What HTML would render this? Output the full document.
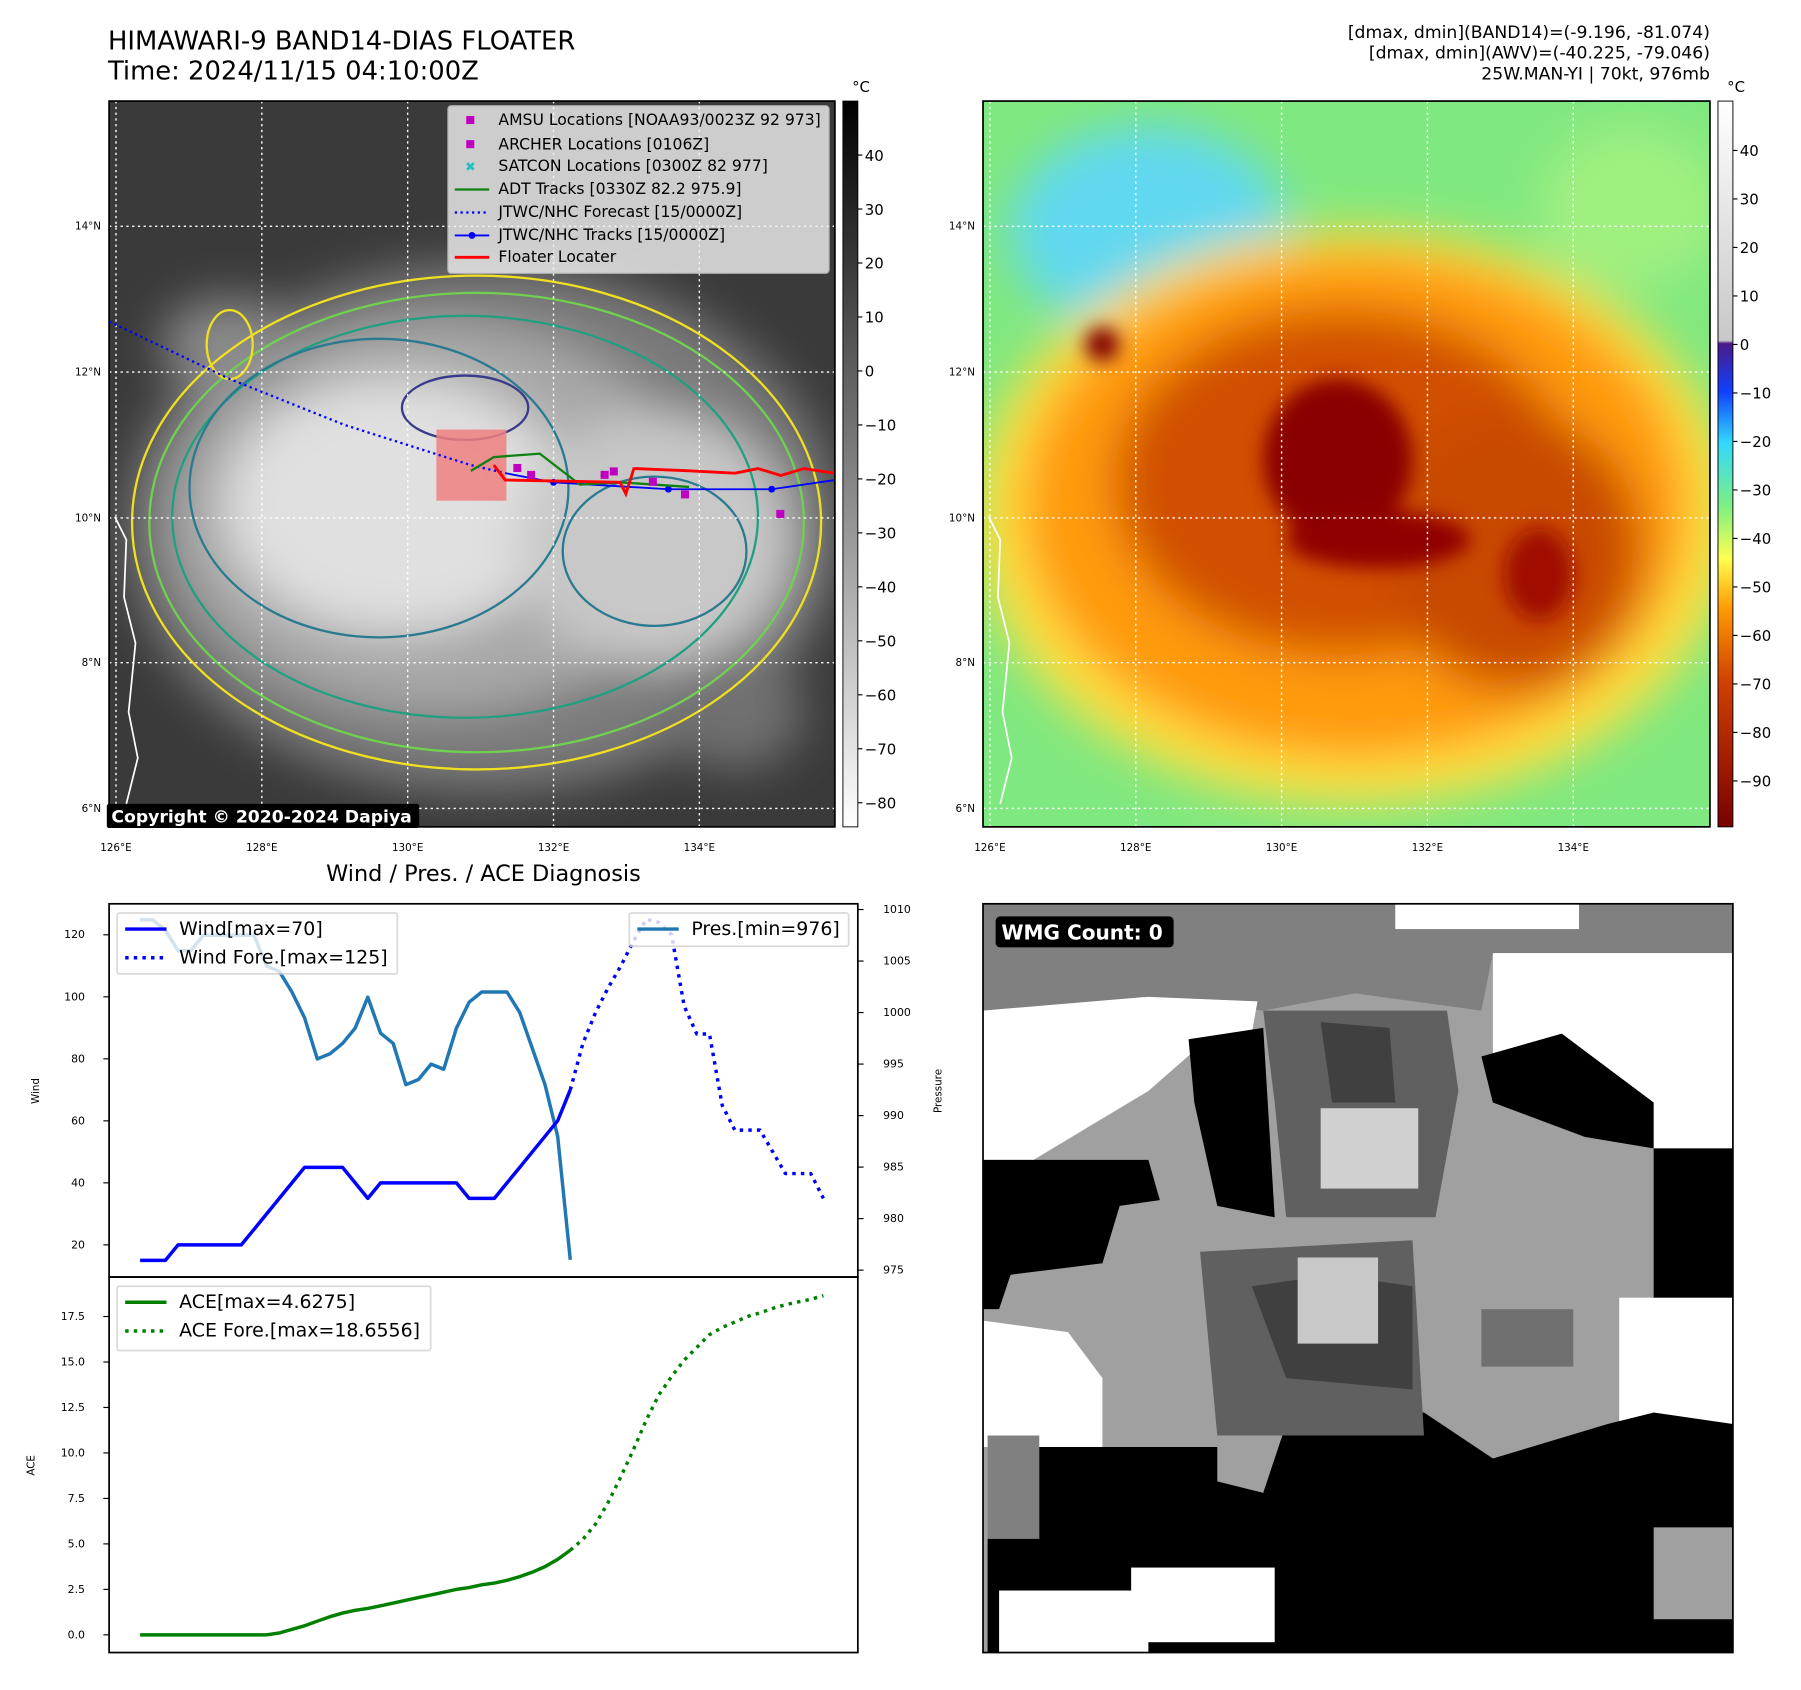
<!DOCTYPE html>
<html><head><meta charset="utf-8"><style>
html,body{margin:0;padding:0;background:#fff;}
svg{display:block;font-family:"DejaVu Sans","Liberation Sans",sans-serif;}
</style></head><body>
<svg id="root" width="1801" height="1690" viewBox="0 0 1568.3 1471.6" xmlns="http://www.w3.org/2000/svg">
<defs>
 <filter id="blur8"><feGaussianBlur stdDeviation="8"/></filter>
 <filter id="blur20"><feGaussianBlur stdDeviation="20"/></filter>
 <linearGradient id="cb1" x1="0" y1="0" x2="0" y2="1"><stop offset="0" stop-color="#000"/><stop offset="1" stop-color="#fff"/></linearGradient>
 <linearGradient id="cb2" x1="0" y1="0" x2="0" y2="1">
  <stop offset="0" stop-color="#fff"/><stop offset="0.33" stop-color="#c8c8c8"/><stop offset="0.334" stop-color="#4b1a8a"/>
  <stop offset="0.40" stop-color="#1040ff"/><stop offset="0.47" stop-color="#30d8ff"/><stop offset="0.56" stop-color="#80f080"/>
  <stop offset="0.63" stop-color="#ffff50"/><stop offset="0.70" stop-color="#ff9a00"/><stop offset="0.80" stop-color="#d04000"/>
  <stop offset="1" stop-color="#7a0000"/></linearGradient>
 <clipPath id="c1"><rect x="95" y="88" width="632" height="632"/></clipPath>
 <clipPath id="c2"><rect x="856" y="88" width="633" height="632"/></clipPath>
 <clipPath id="c3"><rect x="856" y="787" width="653" height="652"/></clipPath>
</defs>

<text x="94" y="43" font-size="22.5">HIMAWARI-9 BAND14-DIAS FLOATER</text>
<text x="94" y="69" font-size="22.5">Time: 2024/11/15 04:10:00Z</text>
<g font-size="15" text-anchor="end">
 <text x="1489" y="33">[dmax, dmin](BAND14)=(-9.196, -81.074)</text>
 <text x="1489" y="51">[dmax, dmin](AWV)=(-40.225, -79.046)</text>
 <text x="1489" y="69">25W.MAN-YI | 70kt, 976mb</text>
</g>

<g clip-path="url(#c1)">
 <rect x="95" y="88" width="632" height="632" fill="#3a3a3a"/>
 <g filter="url(#blur20)">
  <ellipse cx="420" cy="460" rx="310" ry="230" fill="#7a7a7a"/>
  <ellipse cx="380" cy="450" rx="230" ry="170" fill="#a8a8a8"/>
  <ellipse cx="345" cy="440" rx="150" ry="110" fill="#e0e0e0"/>
  <ellipse cx="570" cy="470" rx="120" ry="110" fill="#c8c8c8"/>
  <ellipse cx="200" cy="300" rx="60" ry="40" fill="#8a8a8a"/>
  <ellipse cx="640" cy="620" rx="60" ry="50" fill="#707070"/>
 </g>
 <g fill="none" stroke-width="2">
  <ellipse cx="415" cy="455" rx="300" ry="215" stroke="#f0e020"/>
  <ellipse cx="415" cy="455" rx="285" ry="200" stroke="#70d050"/>
  <ellipse cx="405" cy="450" rx="255" ry="175" stroke="#20a080"/>
  <ellipse cx="330" cy="425" rx="165" ry="130" stroke="#2a7a90"/>
  <ellipse cx="570" cy="480" rx="80" ry="65" stroke="#2a7a90"/>
  <ellipse cx="405" cy="355" rx="55" ry="28" stroke="#3a3a8a"/>
  <ellipse cx="200" cy="300" rx="20" ry="30" stroke="#f0e020"/>
 </g>
 <path d="M100 450 L110 470 L108 520 L118 560 L112 620 L120 660 L110 700" fill="none" stroke="#fff" stroke-width="1.5"/>
 <g stroke="#fff" stroke-width="1.2" stroke-dasharray="2,3" fill="none">
  <line x1="101" y1="88" x2="101" y2="720"/><line x1="228" y1="88" x2="228" y2="720"/><line x1="355" y1="88" x2="355" y2="720"/><line x1="482" y1="88" x2="482" y2="720"/><line x1="609" y1="88" x2="609" y2="720"/>
  <line x1="95" y1="197" x2="727" y2="197"/><line x1="95" y1="324" x2="727" y2="324"/><line x1="95" y1="451" x2="727" y2="451"/><line x1="95" y1="577" x2="727" y2="577"/><line x1="95" y1="704" x2="727" y2="704"/>
 </g>
 <rect x="380" y="374" width="61" height="62" fill="#f08080" opacity="0.85"/>
 <path d="M95 280 L200 330 L300 370 L410 405 L440 412" fill="none" stroke="#0000ff" stroke-width="2" stroke-dasharray="2,3"/>
 <path d="M440 412 L482 420 L582 426 L672 426 L727 418" fill="none" stroke="#0000ff" stroke-width="1.6"/>
 <g fill="#0000ff"><circle cx="482" cy="420" r="3"/><circle cx="582" cy="426" r="3"/><circle cx="672" cy="426" r="3"/></g>
 <path d="M410 410 L430 398 L470 395 L505 422 L540 420 L600 424" fill="none" stroke="#108010" stroke-width="2"/>
 <path d="M430 405 L440 418 L540 420 L545 430 L552 408 L600 410 L640 412 L660 408 L680 414 L700 408 L727 412" fill="none" stroke="#ff0000" stroke-width="2.5"/>
 <g fill="#c000c0"><rect x="447" y="404" width="7" height="7"/><rect x="459" y="410" width="7" height="7"/><rect x="523" y="410" width="7" height="7"/><rect x="531" y="407" width="7" height="7"/><rect x="565" y="416" width="7" height="7"/><rect x="593" y="427" width="7" height="7"/><rect x="676" y="444" width="7" height="7"/></g>
</g>
<rect x="95" y="88" width="632" height="632" fill="none" stroke="#000" stroke-width="1.5"/>
<g>
 <rect x="390" y="92" width="332" height="146" fill="#f2f2f2" opacity="0.8" stroke="#ccc" rx="3"/>
 <g font-size="13.6">
  <rect x="406" y="101" width="7" height="7" fill="#c000c0"/><text x="434" y="109">AMSU Locations [NOAA93/0023Z 92 973]</text>
  <rect x="406" y="122" width="7" height="7" fill="#c000c0"/><text x="434" y="130">ARCHER Locations [0106Z]</text>
  <text x="405" y="149" fill="#20c0c0" font-size="11" font-weight="bold">✖</text><text x="434" y="149">SATCON Locations [0300Z 82 977]</text>
  <line x1="396" y1="165" x2="426" y2="165" stroke="#108010" stroke-width="2"/><text x="434" y="169">ADT Tracks [0330Z 82.2 975.9]</text>
  <line x1="396" y1="185" x2="426" y2="185" stroke="#0000ff" stroke-width="2" stroke-dasharray="2,3"/><text x="434" y="189">JTWC/NHC Forecast [15/0000Z]</text>
  <line x1="396" y1="205" x2="426" y2="205" stroke="#0000ff" stroke-width="1.6"/><circle cx="411" cy="205" r="3" fill="#0000ff"/><text x="434" y="209">JTWC/NHC Tracks [15/0000Z]</text>
  <line x1="396" y1="224" x2="426" y2="224" stroke="#ff0000" stroke-width="2.5"/><text x="434" y="228">Floater Locater</text>
 </g>
</g>
<rect x="93" y="700" width="272" height="21" fill="#000" rx="2"/>
<text x="97" y="716" fill="#fff" font-size="15" font-weight="bold">Copyright © 2020-2024 Dapiya</text>
<g font-size="9">
 <text x="88" y="200" text-anchor="end">14°N</text><text x="88" y="327" text-anchor="end">12°N</text><text x="88" y="454" text-anchor="end">10°N</text><text x="88" y="580" text-anchor="end">8°N</text><text x="88" y="707" text-anchor="end">6°N</text>
 <text x="101" y="741" text-anchor="middle">126°E</text><text x="228" y="741" text-anchor="middle">128°E</text><text x="355" y="741" text-anchor="middle">130°E</text><text x="482" y="741" text-anchor="middle">132°E</text><text x="609" y="741" text-anchor="middle">134°E</text>
</g>
<g>
 <rect x="734" y="88" width="13" height="632" fill="url(#cb1)" stroke="#000" stroke-width="0.8"/>
 <text x="742" y="80" font-size="13">°C</text>
 <g id="cb1ticks" font-size="13"></g>
</g>

<g clip-path="url(#c2)">
 <rect x="856" y="88" width="633" height="632" fill="#80e880"/>
 <g filter="url(#blur20)">
  <ellipse cx="1000" cy="200" rx="120" ry="90" fill="#60d8f0"/>
  <ellipse cx="1420" cy="180" rx="80" ry="70" fill="#a0f080"/>
  <ellipse cx="1180" cy="450" rx="330" ry="250" fill="#ffe040"/>
  <ellipse cx="1180" cy="440" rx="290" ry="220" fill="#ff9a10"/>
  <ellipse cx="1170" cy="420" rx="200" ry="150" fill="#d05000"/>
  <ellipse cx="1320" cy="480" rx="110" ry="120" fill="#c84800"/>
 </g>
 <g filter="url(#blur8)">
  <ellipse cx="1165" cy="400" rx="65" ry="70" fill="#8a0000"/>
  <ellipse cx="1200" cy="470" rx="80" ry="25" fill="#900000"/>
  <ellipse cx="960" cy="300" rx="15" ry="15" fill="#800000"/>
  <ellipse cx="1340" cy="500" rx="30" ry="40" fill="#a01000"/>
 </g>
 <path d="M861 450 L871 470 L869 520 L879 560 L873 620 L881 660 L871 700" fill="none" stroke="#fff" stroke-width="1.5"/>
 <g stroke="#fff" stroke-width="1.2" stroke-dasharray="2,3" fill="none">
  <line x1="862" y1="88" x2="862" y2="720"/><line x1="989" y1="88" x2="989" y2="720"/><line x1="1116" y1="88" x2="1116" y2="720"/><line x1="1243" y1="88" x2="1243" y2="720"/><line x1="1370" y1="88" x2="1370" y2="720"/>
  <line x1="856" y1="197" x2="1489" y2="197"/><line x1="856" y1="324" x2="1489" y2="324"/><line x1="856" y1="451" x2="1489" y2="451"/><line x1="856" y1="577" x2="1489" y2="577"/><line x1="856" y1="704" x2="1489" y2="704"/>
 </g>
</g>
<rect x="856" y="88" width="633" height="632" fill="none" stroke="#000" stroke-width="1.5"/>
<g font-size="9">
 <text x="849" y="200" text-anchor="end">14°N</text><text x="849" y="327" text-anchor="end">12°N</text><text x="849" y="454" text-anchor="end">10°N</text><text x="849" y="580" text-anchor="end">8°N</text><text x="849" y="707" text-anchor="end">6°N</text>
 <text x="862" y="741" text-anchor="middle">126°E</text><text x="989" y="741" text-anchor="middle">128°E</text><text x="1116" y="741" text-anchor="middle">130°E</text><text x="1243" y="741" text-anchor="middle">132°E</text><text x="1370" y="741" text-anchor="middle">134°E</text>
</g>
<g>
 <rect x="1496" y="88" width="13" height="632" fill="url(#cb2)" stroke="#000" stroke-width="0.8"/>
 <text x="1504" y="80" font-size="13">°C</text>
 <g id="cb2ticks" font-size="13"></g>
</g>

<g clip-path="url(#c3)">
 <rect x="856" y="787" width="653" height="652" fill="#a0a0a0"/>
 <path d="M856 787 L1509 787 L1509 830 L1300 830 L1290 880 L1180 865 L1100 880 L1000 868 L856 880 Z" fill="#808080"/>
 <rect x="1215" y="787" width="160" height="22" fill="#fff"/>
 <path d="M856 880 L1000 868 L1095 872 L1090 900 L1040 915 L1000 950 L950 980 L900 1010 L856 1010 Z" fill="#fff"/>
 <path d="M1300 830 L1509 830 L1509 1000 L1440 1000 L1420 960 L1300 930 Z" fill="#fff"/>
 <path d="M1035 905 L1100 895 L1110 1060 L1060 1050 L1040 960 Z" fill="#000"/>
 <path d="M856 1010 L1000 1010 L1010 1045 L975 1050 L960 1100 L880 1110 L870 1140 L856 1140 Z" fill="#000"/>
 <path d="M1290 920 L1360 900 L1440 960 L1440 1000 L1380 990 L1300 960 Z" fill="#000"/>
 <rect x="1440" y="1000" width="69" height="230" fill="#000"/>
 <rect x="1410" y="1130" width="99" height="110" fill="#fff"/>
 <path d="M856 1150 L930 1160 L960 1200 L960 1260 L856 1260 Z" fill="#fff"/>
 <rect x="860" y="1250" width="45" height="90" fill="#808080"/>
 <path d="M905 1260 L1060 1260 L1060 1290 L1100 1300 L1120 1240 L1240 1230 L1300 1270 L1400 1240 L1440 1230 L1509 1240 L1509 1439 L860 1439 L860 1340 L905 1340 Z" fill="#000"/>
 <rect x="870" y="1385" width="130" height="54" fill="#fff"/>
 <rect x="985" y="1365" width="125" height="65" fill="#fff"/>
 <rect x="1440" y="1330" width="69" height="80" fill="#a0a0a0"/>
 <path d="M1100 880 L1260 880 L1270 950 L1250 1060 L1120 1060 L1110 960 Z" fill="#606060"/>
 <path d="M1150 890 L1210 895 L1215 960 L1160 960 Z" fill="#404040"/>
 <rect x="1150" y="965" width="85" height="70" fill="#d0d0d0"/>
 <path d="M1045 1090 L1230 1080 L1240 1250 L1060 1250 Z" fill="#606060"/>
 <path d="M1090 1120 L1160 1110 L1230 1120 L1230 1210 L1120 1200 Z" fill="#404040"/>
 <rect x="1130" y="1095" width="70" height="75" fill="#c8c8c8"/>
 <rect x="1290" y="1140" width="80" height="50" fill="#707070"/>
</g>
<rect x="856" y="787" width="653" height="652" fill="none" stroke="#000" stroke-width="1.5"/>
<rect x="867" y="798" width="155" height="27" rx="4" fill="#000"/>
<text x="872" y="818" fill="#fff" font-size="17.5" font-weight="bold">WMG Count: 0</text>

<text x="421" y="767" font-size="19.5" text-anchor="middle">Wind / Pres. / ACE Diagnosis</text>
<g id="chart"></g>
</svg>

<script>
const windObs = [15,15,15,20,20,20,20,20,20,25,30,35,40,45,45,45,45,40,35,40,40,40,40,40,40,40,35,35,35,40,45,50,55,60,70];
const windFcst = [70,85,95,103,110,118,125,124,120,97,88,88,65,57,57,57,50,43,43,43,35];
const presObs = [1009,1009,1008,1006,1006,1007.5,1007.5,1007.5,1007.5,1007.5,1004.5,1004,1002,999.5,995.5,996,997,998.5,1001.5,998,997,993,993.5,995,994.5,998.5,1001,1002,1002,1002,1000,996.5,993,988,976];
const aceObs = [0,0,0,0,0,0,0,0,0,0,0,0.1,0.3,0.5,0.75,1.0,1.2,1.35,1.45,1.6,1.75,1.9,2.05,2.2,2.35,2.5,2.6,2.75,2.85,3.0,3.2,3.45,3.75,4.15,4.65];
const aceFcst = [4.65,5.25,6.1,7.3,8.7,10.2,11.8,13.2,14.2,15.1,15.8,16.5,16.9,17.2,17.5,17.7,17.95,18.15,18.3,18.45,18.65];
const windTicks = [20,40,60,80,100,120];
const presTicks = [975,980,985,990,995,1000,1005,1010];
const aceTicks = [0,2.5,5,7.5,10,12.5,15,17.5];
const cb1Ticks = [40,30,20,10,0,-10,-20,-30,-40,-50,-60,-70,-80];
const cb2Ticks = [40,30,20,10,0,-10,-20,-30,-40,-50,-60,-70,-80,-90];

const NS='http://www.w3.org/2000/svg';
function mk(tag, attrs, parent){const e=document.createElementNS(NS,tag);for(const k in attrs)e.setAttribute(k,attrs[k]);parent.appendChild(e);return e;}
const xI = i => 122 + i*(717-122)/54;
const yW = v => 814 + (120-v)*(1084-814)/100;
const yP = v => 792 + (1010-v)*(1106-792)/35;
const yA = v => 1423.6 + (0-v)*(1423.6-1146.4)/17.5;
const cbY1 = v => 135 + (40-v)*(699-135)/120;
const cbY2 = v => 131 + (40-v)*(680-131)/130;

const ch=document.getElementById('chart');
function line(vals, off, yf, color, dash, name){
  const d=vals.map((v,k)=>(k?'L':'M')+xI(off+k).toFixed(1)+' '+yf(v).toFixed(1)).join(' ');
  const p=mk('path',{d:d,fill:'none',stroke:color,'stroke-width':3,'stroke-linejoin':'round'},ch);
  if(dash)p.setAttribute('stroke-dasharray','3,4.5');
  
  
}
mk('rect',{x:95,y:787,width:652,height:325,fill:'none',stroke:'#000','stroke-width':1.5},ch);
mk('rect',{x:95,y:1112,width:652,height:327,fill:'none',stroke:'#000','stroke-width':1.5},ch);
windTicks.forEach(v=>{const y=yW(v);mk('line',{x1:90,y1:y,x2:95,y2:y,stroke:'#000'},ch);const t=mk('text',{x:74,y:y+3,'font-size':9.5,'text-anchor':'end'},ch);t.textContent=v;

});
presTicks.forEach(v=>{const y=yP(v);mk('line',{x1:747,y1:y,x2:752,y2:y,stroke:'#000'},ch);const t=mk('text',{x:769,y:y+3,'font-size':9.5},ch);t.textContent=v;

});
aceTicks.forEach(v=>{const y=yA(v);mk('line',{x1:90,y1:y,x2:95,y2:y,stroke:'#000'},ch);const t=mk('text',{x:74,y:y+3,'font-size':9.5,'text-anchor':'end'},ch);t.textContent=v.toFixed(1);

});
let t=mk('text',{x:34,y:950,'font-size':9,'text-anchor':'middle',transform:'rotate(-90 34 950)'},ch);t.textContent='Wind';


t=mk('text',{x:820,y:950,'font-size':9,'text-anchor':'middle',transform:'rotate(-90 820 950)'},ch);t.textContent='Pressure';


t=mk('text',{x:30,y:1276,'font-size':9,'text-anchor':'middle',transform:'rotate(-90 30 1276)'},ch);t.textContent='ACE';



line(presObs,0,yP,'#1f77b4',false,'pressure-line');
line(windObs,0,yW,'#0000ff',false,'wind-line');
line(windFcst,34,yW,'#0000ff',true,'wind-forecast-line');
line(aceObs,0,yA,'#008000',false,'ace-line');
line(aceFcst,34,yA,'#008000',true,'ace-forecast-line');

function legend(x,y,w,h,items,name){
  const g=mk('g',{},ch);
  
  
  mk('rect',{x:x,y:y,width:w,height:h,fill:'#fff',opacity:0.8,stroke:'#d0d0d0','stroke-width':1.5,rx:2},g);
  items.forEach((it,k)=>{const yy=y+14+k*25;const l=mk('line',{x1:x+7,y1:yy,x2:x+43,y2:yy,stroke:it[1],'stroke-width':3},g);
    if(it[2])l.setAttribute('stroke-dasharray','3,4.5');
    const tt=mk('text',{x:x+54,y:yy+5,'font-size':16.5},g);tt.textContent=it[0];});
}
legend(102,795,244,53,[['Wind[max=70]','#0000ff',false],['Wind Fore.[max=125]','#0000ff',true]],'wind-legend');
legend(548,795,191,29,[['Pres.[min=976]','#1f77b4',false]],'pressure-legend');
legend(102,1120,273,56,[['ACE[max=4.6275]','#008000',false],['ACE Fore.[max=18.6556]','#008000',true]],'ace-legend');

const g1=document.getElementById('cb1ticks');
cb1Ticks.forEach(v=>{const y=cbY1(v);mk('line',{x1:747,y1:y,x2:751,y2:y,stroke:'#000'},g1);const tx=mk('text',{x:753,y:y+5},g1);tx.textContent=v<0?'\u2212'+(-v):v;

});
const g2=document.getElementById('cb2ticks');
cb2Ticks.forEach(v=>{const y=cbY2(v);mk('line',{x1:1509,y1:y,x2:1513,y2:y,stroke:'#000'},g2);const tx=mk('text',{x:1515,y:y+5},g2);tx.textContent=v<0?'\u2212'+(-v):v;

});
</script>
</body></html>
